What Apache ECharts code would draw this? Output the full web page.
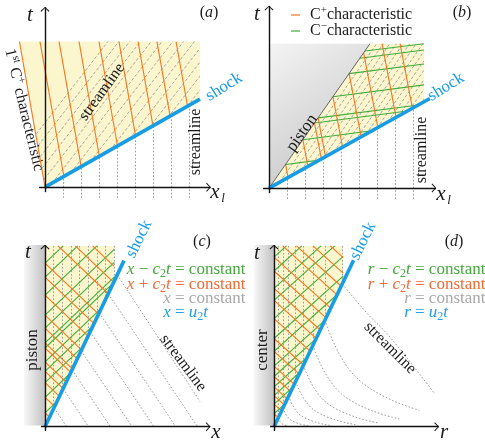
<!DOCTYPE html>
<html>
<head>
<meta charset="utf-8">
<script src="https://cdn.jsdelivr.net/npm/echarts@6/dist/echarts.min.js"></script>
<style>
html,body{margin:0;padding:0;background:#fff;}
#chart{width:485px;height:443px;}
</style>
</head>
<body>
<div id="chart"></div>
<script>
// ---------- panel (a): Lagrangian x_l–t plane, shock into still gas ----------
const aYellow = [[-1.42, 8.17], [8.61, 8.17], [8.61, 4.94], [0, 0]];
const aShock = [[[0, 0], [8.61, 4.94]]];
const aCPlus = [
  [[-1.42, 8.17], [0, 0]],
  [[-0.28, 8.17], [1.05, 0.60]],
  [[0.78, 8.17], [2.01, 1.15]],
  [[1.89, 8.17], [3.02, 1.73]],
  [[3.00, 8.17], [4.03, 2.31]],
  [[4.11, 8.17], [5.03, 2.89]],
  [[5.17, 8.17], [6.00, 3.44]],
  [[6.22, 8.17], [6.95, 3.99]],
  [[7.28, 8.17], [7.92, 4.54]]
];
const aStreamBehind = [
  [[-0.48, 2.99], [3.5, 8.17]],
  [[-0.37, 2.35], [4.1, 8.17]],
  [[-0.26, 1.72], [4.7, 8.17]],
  [[-0.15, 1.08], [5.3, 8.17]],
  [[-0.04, 0.45], [5.9, 8.17]],
  [[0.39, 0.22], [6.5, 8.17]],
  [[1.46, 0.84], [7.1, 8.17]],
  [[2.53, 1.45], [7.7, 8.17]],
  [[3.61, 2.07], [8.3, 8.17]],
  [[4.68, 2.69], [8.61, 7.79]],
  [[5.76, 3.30], [8.61, 7.01]],
  [[6.83, 3.92], [8.61, 6.23]],
  [[7.91, 4.54], [8.61, 5.45]]
];
const aStreamAhead = [
  [[1, -0.6], [1, 0.57]], [[2, -0.6], [2, 1.15]], [[3, -0.6], [3, 1.72]], [[4, -0.6], [4, 2.30]],
  [[5, -0.6], [5, 2.87]], [[6, -0.6], [6, 3.44]], [[7, -0.6], [7, 4.02]], [[8, -0.6], [8, 4.59]]
];
const aAxes = [[[-0.33, 0], [9.2, 0]], [[0, -0.28], [0, 10.1]]];

// ---------- panel (b): piston-driven shock, both characteristic families ----------
const bYellow = [[0, 0], [5.61, 8.06], [8.61, 8.06], [8.61, 4.81]];
const bPistonArea = [[0, 0], [0, 8.06], [5.61, 8.06]];
const bPiston = [[[0, 0], [5.61, 8.06]]];
const bShock = [[[0, 0], [8.94, 5.0]]];
const bCPlus = [
  [[0.92, 1.32], [1.06, 0.59]],
  [[1.88, 2.70], [2.16, 1.21]],
  [[2.53, 3.63], [2.91, 1.63]],
  [[2.73, 3.92], [3.14, 1.76]],
  [[3.55, 5.10], [4.09, 2.28]],
  [[4.45, 6.39], [5.12, 2.86]],
  [[5.26, 7.55], [6.05, 3.38]],
  [[6.28, 8.06], [7.06, 3.95]],
  [[7.28, 8.06], [7.97, 4.45]]
];
const bCMinus = [
  [[0.92, 1.32], [2.80, 1.56]],
  [[1.88, 2.70], [5.72, 3.20]],
  [[2.53, 3.63], [7.69, 4.30]],
  [[2.73, 3.92], [8.30, 4.64]],
  [[3.55, 5.10], [8.61, 5.76]],
  [[4.45, 6.39], [8.61, 6.93]],
  [[5.05, 7.25], [8.61, 7.71]],
  [[5.33, 7.65], [8.61, 8.06]]
];
const bStreamBehind = [
  [[0.6, 0.34], [5.98, 8.06]], [[1.2, 0.67], [6.35, 8.06]], [[1.8, 1.01], [6.71, 8.06]],
  [[2.4, 1.34], [7.08, 8.06]], [[3.0, 1.68], [7.45, 8.06]], [[3.6, 2.01], [7.81, 8.06]],
  [[4.2, 2.35], [8.18, 8.06]], [[4.8, 2.68], [8.55, 8.06]], [[5.4, 3.02], [8.61, 7.63]],
  [[6.0, 3.35], [8.61, 7.10]], [[6.6, 3.69], [8.61, 6.58]], [[7.2, 4.02], [8.61, 6.05]],
  [[7.8, 4.36], [8.61, 5.52]], [[8.4, 4.70], [8.61, 5.0]]
];
const bStreamAhead = [
  [[1, -0.6], [1, 0.56]], [[2, -0.6], [2, 1.12]], [[3, -0.6], [3, 1.68]], [[4, -0.6], [4, 2.24]],
  [[5, -0.6], [5, 2.80]], [[6, -0.6], [6, 3.35]], [[7, -0.6], [7, 3.91]], [[8, -0.6], [8, 4.47]]
];
const bAxes = [[[-0.33, 0], [9.28, 0]], [[0, -0.28], [0, 10.17]]];

// ---------- panel (c): planar piston, Eulerian x–t ----------
const cYellow = [[0, 0], [8, 16.8], [8, 20.9], [0, 20.9]];
const cWall = [[-2.43, 0.15], [0, 0.15], [0, 21.0], [-2.43, 21.0]];
const cShock = [[[0, 0], [9.13, 19.2]]];
const cPlus = [
  [[0.525, 1.10], [0, 1.6]],
  [[1.115, 2.34], [0, 3.4]],
  [[1.672, 3.51], [0, 5.1]],
  [[2.098, 4.41], [0, 6.4]],
  [[2.459, 5.16], [0, 7.5]],
  [[2.984, 6.27], [0, 9.1]],
  [[3.180, 6.68], [0, 9.7]],
  [[3.738, 7.85], [0, 11.4]],
  [[4.230, 8.88], [0, 12.9]],
  [[4.984, 10.47], [0, 15.2]],
  [[5.672, 11.91], [0, 17.3]],
  [[6.197, 13.01], [0, 18.9]],
  [[1.5, 20.9], [7.32, 15.37]],
  [[3.5, 20.9], [7.94, 16.68]],
  [[5.5, 20.9], [8, 18.53]]
];
const cMinus = [
  [[0, 1.6], [1.39, 2.92]],
  [[0, 3.4], [2.957, 6.21]],
  [[0, 5.1], [4.435, 9.31]],
  [[0, 6.4], [5.565, 11.69]],
  [[0, 7.5], [6.522, 13.70]],
  [[0, 9.1], [7.913, 16.62]],
  [[0, 9.7], [8, 17.3]],
  [[0, 11.4], [8, 19.0]],
  [[0, 12.9], [8, 20.5]],
  [[0, 15.2], [6.0, 20.9]],
  [[0, 17.3], [3.79, 20.9]],
  [[0, 18.9], [2.1, 20.9]]
];
const cFixedX = [
  [[1, 20.9], [1, 2.1]], [[2, 20.9], [2, 4.2]], [[3, 20.9], [3, 6.3]], [[4, 20.9], [4, 8.4]],
  [[5, 20.9], [5, 10.5]], [[6, 20.9], [6, 12.6]], [[7, 20.9], [7, 14.7]], [[8, 20.9], [8, 16.8]]
];
const cStreamAhead = [
  [[1.045, 2.19], [2.52, 0]], [[2.09, 4.39], [5.04, 0]], [[3.135, 6.58], [7.56, 0]],
  [[4.18, 8.78], [10.08, 0]], [[5.225, 10.97], [12.6, 0]], [[6.27, 13.17], [15.12, 0]],
  [[7.315, 15.36], [17.64, 0]], [[8.36, 17.56], [17.92, 2.9]]
];
const cAxes = [[[-0.45, 0], [19.1, 0]], [[0, -0.5], [0, 21.0]]];

// ---------- panel (d): converging centre, r–t ----------
const dYellow = [[0, 0], [8, 16.72], [8, 20.9], [0, 20.9]];
const dWall = [[-2.35, 0.15], [0, 0.15], [0, 21.0], [-2.35, 21.0]];
const dShock = [[[0, 0], [9.2, 19.25]]];
const dPlus = [
  [[0.502, 1.05], [0, 1.5]],
  [[0.870, 1.82], [0, 2.6]],
  [[1.204, 2.52], [0, 3.6]],
  [[1.538, 3.22], [0, 4.6]],
  [[1.940, 4.05], [0, 5.8]],
  [[2.341, 4.89], [0, 7.0]],
  [[2.910, 6.08], [0, 8.7]],
  [[3.411, 7.13], [0, 10.2]],
  [[4.181, 8.74], [0, 12.5]],
  [[4.883, 10.21], [0, 14.6]],
  [[5.351, 11.18], [0, 16.0]],
  [[6.020, 12.58], [0, 18.0]],
  [[6.555, 13.70], [0, 19.6]],
  [[1.0, 20.9], [7.29, 15.24]],
  [[2.6, 20.9], [7.77, 16.24]],
  [[4.5, 20.9], [8, 17.75]],
  [[6.5, 20.9], [8, 19.55]]
];
const dMinus = [
  [[0, 1.5], [1.261, 2.63]],
  [[0, 2.6], [2.185, 4.57]],
  [[0, 3.6], [3.025, 6.32]],
  [[0, 4.6], [3.866, 8.08]],
  [[0, 5.8], [4.874, 10.19]],
  [[0, 7.0], [5.882, 12.29]],
  [[0, 8.7], [7.311, 15.28]],
  [[0, 10.2], [8, 17.4]],
  [[0, 12.5], [8, 19.7]],
  [[0, 14.6], [7.0, 20.9]],
  [[0, 16.0], [5.44, 20.9]],
  [[0, 18.0], [3.22, 20.9]],
  [[0, 19.6], [1.44, 20.9]]
];
const dFixedR = [
  [[0.5, 20.9], [0.5, 1.05]], [[1.05, 20.9], [1.05, 2.19]], [[1.7, 20.9], [1.7, 3.55]],
  [[2.5, 20.9], [2.5, 5.23]], [[3.4, 20.9], [3.4, 7.11]], [[4.5, 20.9], [4.5, 9.41]],
  [[5.9, 20.9], [5.9, 12.33]], [[7.9, 20.9], [7.9, 16.51]]
];
const dStreamAhead = [
  [[0.5, 1.05], [0.85, 0.4], [1.7, 0.05]],
  [[1.05, 2.19], [1.9, 0.8], [4.0, 0.1]],
  [[1.7, 3.55], [3.1, 1.3], [6.5, 0.15]],
  [[2.5, 5.23], [4.6, 1.95], [9.4, 0.25]],
  [[3.4, 7.11], [6.1, 2.75], [12.0, 0.45]],
  [[4.5, 9.41], [7.8, 3.8], [14.5, 0.9]],
  [[5.9, 12.33], [9.6, 5.6], [16.8, 1.9]],
  [[7.9, 16.51], [10.5, 13.4], [13.45, 10.3], [18.5, 3.9]]
];
const dAxes = [[[-0.45, 0], [19.05, 0]], [[0, -0.5], [0, 21.0]]];

// ---------- styling ----------
const SERIF = '"Liberation Serif", "DejaVu Serif", serif';
const ORANGE = '#f4771f';
const GREEN = '#3fae3a';
const BLUE = '#179de6';
const YELLOW = '#fcf6cf';
const GRAYLINE = '#9c9c9c';
const ARROW = 'path://M0,-4.4 M0,0 L4.2,4.2 L3.5,4.9 L0,1.2 L-3.5,4.9 L-4.2,4.2 Z';

// each panel: pixel origin, pixels per unit, axis ranges
const frames = [
  {ox: 45, oy: 187, s: 18, xr: [-2, 10], yr: [-1, 10.5]},
  {ox: 269, oy: 188, s: 18, xr: [-1, 10], yr: [-1, 10.5]},
  {ox: 45, oy: 426.7, s: 8.65, xr: [-3, 20], yr: [-1, 22]},
  {ox: 274, oy: 426.7, s: 8.65, xr: [-3, 20], yr: [-1, 22]}
];

const grids = frames.map(f => ({
  left: f.ox + f.xr[0] * f.s,
  top: f.oy - f.yr[1] * f.s,
  width: (f.xr[1] - f.xr[0]) * f.s,
  height: (f.yr[1] - f.yr[0]) * f.s,
  containLabel: false
}));
const xAxes = frames.map((f, i) => ({gridIndex: i, type: 'value', min: f.xr[0], max: f.xr[1], show: false}));
const yAxes = frames.map((f, i) => ({gridIndex: i, type: 'value', min: f.yr[0], max: f.yr[1], show: false}));

function seg(gi, data, color, width, dash, z, extra) {
  return Object.assign({
    type: 'lines', coordinateSystem: 'cartesian2d', xAxisIndex: gi, yAxisIndex: gi,
    polyline: false, silent: true, clip: false, z: z, animation: false,
    data: data.map(c => ({coords: c})),
    symbol: 'none',
    lineStyle: {color: color, width: width, type: dash || 'solid', opacity: 1, curveness: 0}
  }, extra || {});
}
function poly(gi, pts, fill, z) {
  return {
    type: 'custom', coordinateSystem: 'cartesian2d', xAxisIndex: gi, yAxisIndex: gi,
    silent: true, clip: false, z: z, animation: false,
    data: [pts[0]],
    renderItem: (params, api) => ({
      type: 'polygon',
      shape: {points: pts.map(p => api.coord(p))},
      style: {fill: fill, stroke: null}
    })
  };
}
function axes(gi, data) {
  return seg(gi, data, '#111', 1.4, 'solid', 10, {symbol: ['none', ARROW], symbolSize: 9});
}
const DASH = [3, 2];
const DOT = [1.6, 1.9];

const pistonFill = new echarts.graphic.LinearGradient(0, 0, 1, 1, [
  {offset: 0, color: '#f4f4f4'}, {offset: 1, color: '#bebebe'}
]);
const wallFill = () => new echarts.graphic.LinearGradient(0, 0, 1, 0, [
  {offset: 0, color: '#f8f8f8'}, {offset: 1, color: '#c2c2c2'}
]);

const series = [
  // (a)
  poly(0, aYellow, YELLOW, 1),
  seg(0, aStreamBehind, GRAYLINE, 0.9, DASH, 2),
  seg(0, aStreamAhead, GRAYLINE, 1, DOT, 2),
  seg(0, aCPlus, ORANGE, 1.1, 'solid', 3),
  seg(0, aShock, BLUE, 3.6, 'solid', 5),
  axes(0, aAxes),
  // (b)
  poly(1, bPistonArea, pistonFill, 1),
  poly(1, bYellow, YELLOW, 1),
  seg(1, bStreamBehind, GRAYLINE, 0.9, DASH, 2),
  seg(1, bStreamAhead, GRAYLINE, 1, DOT, 2),
  seg(1, bCMinus, GREEN, 1.1, 'solid', 3),
  seg(1, bCPlus, ORANGE, 1.1, 'solid', 3),
  seg(1, bPiston, '#555', 0.9, 'solid', 4),
  seg(1, bShock, BLUE, 3.6, 'solid', 5),
  axes(1, bAxes),
  // (c)
  poly(2, cWall, wallFill(), 1),
  poly(2, cYellow, YELLOW, 1),
  seg(2, cFixedX, GRAYLINE, 1, DOT, 2),
  seg(2, cStreamAhead, GRAYLINE, 1, DOT, 2),
  seg(2, cMinus, GREEN, 1.1, 'solid', 3),
  seg(2, cPlus, ORANGE, 1.1, 'solid', 3),
  seg(2, cShock, BLUE, 3.6, 'solid', 5),
  axes(2, cAxes),
  // (d)
  poly(3, dWall, wallFill(), 1),
  poly(3, dYellow, YELLOW, 1),
  seg(3, dFixedR, GRAYLINE, 1, DOT, 2),
  seg(3, dMinus, GREEN, 1.1, 'solid', 3),
  seg(3, dPlus, ORANGE, 1.1, 'solid', 3),
  seg(3, dShock, BLUE, 3.6, 'solid', 5),
  axes(3, dAxes)
];
dStreamAhead.forEach(curve => series.push({
  type: 'line', xAxisIndex: 3, yAxisIndex: 3, data: curve, smooth: 0.45,
  showSymbol: false, symbol: 'none', silent: true, clip: false, z: 2, animation: false,
  lineStyle: {color: GRAYLINE, width: 1, type: DOT}
}));

// ---------- text (every run of text is a rich token so the serif face is always applied) ----------
function tok(size, italic, va) {
  const t = {fontSize: size, fontFamily: SERIF, fontStyle: italic ? 'italic' : 'normal', lineHeight: 20};
  if (va) { t.verticalAlign = va; t.lineHeight = Math.round(size); }
  return t;
}
const RICH = {
  r: tok(16, false), i: tok(16, true),
  r17: tok(17, false), i17: tok(17, true), I: tok(21, true),
  sub: tok(11, false, 'bottom'), sub12: tok(12, false, 'bottom'), isub: tok(13, true, 'bottom'),
  sup: tok(11, false, 'top')
};
function txt(x, y, text, o) {
  o = o || {};
  if (text.indexOf('{') < 0) text = '{' + (o.size === 17 ? 'r17' : 'r') + '|' + text + '}';
  return {
    type: 'text', x: x, y: y, rotation: o.rot || 0, z: 100, silent: true,
    style: {
      text: text, fill: o.color || '#1c1c1c', fontSize: 16, fontFamily: SERIF,
      align: o.align || 'center', verticalAlign: 'middle', lineHeight: 20, rich: RICH
    }
  };
}
function legendLine(x, y, color) {
  return {type: 'line', z: 100, silent: true, shape: {x1: x, y1: y, x2: x + 9, y2: y},
          style: {stroke: color, lineWidth: 1.2}};
}
function eqRow(xEq, y, left, right, color) {
  return [
    txt(xEq, y, left, {align: 'right', color: color}),
    txt(xEq, y, right, {align: 'left', color: color})
  ];
}

const D2R = Math.PI / 180;
const graphics = [
  // (a)
  txt(30, 15, '{I|t}'),
  txt(209, 13, '{r|(}{i|a}{r|)}'),
  txt(215, 192, '{I|x}'), txt(223, 199, '{isub|l}'),
  txt(224, 87, 'shock', {color: BLUE, size: 17, rot: 32 * D2R}),
  txt(24, 110, '{r|1}{sup|st}{r| C}{sup|+}{r| characteristic}', {rot: -76.4 * D2R}),
  txt(102, 92, 'streamline', {rot: 54 * D2R}),
  txt(196, 142, 'streamline', {rot: 90 * D2R}),
  // (b)
  txt(257, 14, '{I|t}'),
  txt(462, 13, '{r|(}{i|b}{r|)}'),
  legendLine(291, 15, ORANGE), legendLine(291, 31, GREEN),
  txt(310, 15, '{r|C}{sup|+}{r|characteristic}', {align: 'left'}),
  txt(310, 31, '{r|C}{sup|−}{r|characteristic}', {align: 'left'}),
  txt(302, 133, 'piston', {size: 17, rot: 55 * D2R}),
  txt(446, 87, 'shock', {color: BLUE, size: 17, rot: 32 * D2R}),
  txt(422, 150, 'streamline', {rot: 90 * D2R}),
  txt(441, 194, '{I|x}'), txt(449, 201, '{isub|l}'),
  // (c)
  txt(28, 252, '{I|t}'),
  txt(202, 242, '{r|(}{i|c}{r|)}'),
  txt(216, 432, '{I|x}'),
  txt(139, 239, 'shock', {color: BLUE, size: 17, rot: 64 * D2R}),
  txt(33, 350, 'piston', {size: 17, rot: 90 * D2R}),
  txt(183, 363, 'streamline', {rot: -53 * D2R}),
  ...eqRow(175, 270, '{i17|x}{r17| − }{i17|c}{sub12|2}{i17|t}{r17| }', '{r17|= constant}', '#46a83c'),
  ...eqRow(175, 285, '{i17|x}{r17| + }{i17|c}{sub12|2}{i17|t}{r17| }', '{r17|= constant}', '#f26a35'),
  ...eqRow(175, 299, '{i17|x}{r17| }', '{r17|= constant}', '#a8a8a8'),
  ...eqRow(175, 313, '{i17|x}{r17| }', '{r17|= }{i17|u}{sub12|2}{i17|t}', '#1f9fe6'),
  // (d)
  txt(257, 253, '{I|t}'),
  txt(454, 242, '{r|(}{i|d}{r|)}'),
  txt(444, 432, '{I|r}'),
  txt(363, 241, 'shock', {color: BLUE, size: 17, rot: 64 * D2R}),
  txt(263, 350, 'center', {size: 17, rot: 90 * D2R}),
  txt(390, 348, 'streamline', {rot: -45 * D2R}),
  ...eqRow(415, 270, '{i17|r}{r17| − }{i17|c}{sub12|2}{i17|t}{r17| }', '{r17|= constant}', '#46a83c'),
  ...eqRow(415, 285, '{i17|r}{r17| + }{i17|c}{sub12|2}{i17|t}{r17| }', '{r17|= constant}', '#f26a35'),
  ...eqRow(415, 299, '{i17|r}{r17| }', '{r17|= constant}', '#a8a8a8'),
  ...eqRow(415, 313, '{i17|r}{r17| }', '{r17|= }{i17|u}{sub12|2}{i17|t}', '#1f9fe6')
];

const chart = echarts.init(document.getElementById('chart'), null, {renderer: 'canvas'});
chart.setOption({
  animation: false,
  backgroundColor: '#ffffff',
  grid: grids,
  xAxis: xAxes,
  yAxis: yAxes,
  series: series,
  graphic: {elements: graphics}
});
</script>
</body>
</html>
